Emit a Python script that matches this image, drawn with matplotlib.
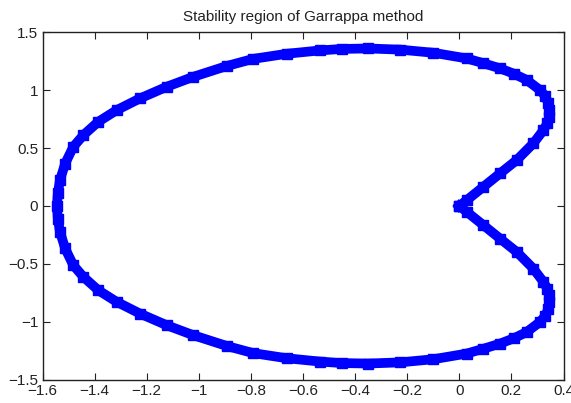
import matplotlib
matplotlib.use("Agg")
import matplotlib.pyplot as plt

plt.rcParams['font.family'] = ['Liberation Sans', 'DejaVu Sans']

# boundary points (cusp -> upper arc -> left -> lower arc -> cusp)
x_upper = [0.0, 0.028, 0.092, 0.156, 0.220, 0.284, 0.323, 0.338, 0.346, 0.346, 0.342,
           0.330, 0.310, 0.259, 0.210, 0.156, 0.090, 0.028, -0.100, -0.228, -0.350,
           -0.450, -0.535, -0.663, -0.791, -0.893, -1.021, -1.123, -1.226, -1.315,
           -1.386, -1.443, -1.482, -1.513, -1.533, -1.541, -1.545]
y_upper = [0.0, 0.049, 0.165, 0.281, 0.396, 0.541, 0.656, 0.715, 0.771, 0.830, 0.887,
           0.950, 1.002, 1.089, 1.143, 1.190, 1.236, 1.276, 1.325, 1.352, 1.362,
           1.358, 1.345, 1.316, 1.272, 1.210, 1.117, 1.031, 0.930, 0.829,
           0.728, 0.613, 0.511, 0.367, 0.223, 0.110, 0.0]
x_lower = [-1.541, -1.533, -1.513, -1.482, -1.443, -1.386, -1.315, -1.226, -1.123, -1.021,
           -0.893, -0.791, -0.663, -0.535, -0.450, -0.350, -0.228, -0.100, 0.028, 0.090,
           0.156, 0.210, 0.259, 0.310, 0.330, 0.342, 0.346, 0.346, 0.338, 0.323, 0.284,
           0.220, 0.156, 0.092, 0.028, 0.0]
y_lower = [-0.110, -0.223, -0.367, -0.511, -0.613, -0.728, -0.829, -0.930, -1.031, -1.117,
           -1.210, -1.272, -1.316, -1.345, -1.358, -1.362, -1.352, -1.325, -1.276, -1.236,
           -1.190, -1.143, -1.089, -1.002, -0.950, -0.887, -0.830, -0.771, -0.715, -0.656, -0.541,
           -0.396, -0.281, -0.165, -0.049, 0.0]

xticks = [-1.6, -1.4, -1.2, -1.0, -0.8, -0.6, -0.4, -0.2, 0.0, 0.2, 0.4]
xtick_labels = ['\u22121.6', '\u22121.4', '\u22121.2', '\u22121', '\u22120.8', '\u22120.6',
                '\u22120.4', '\u22120.2', '0', '0.2', '0.4']
yticks = [-1.5, -1.0, -0.5, 0.0, 0.5, 1.0, 1.5]
ytick_labels = ['\u22121.5', '\u22121', '\u22120.5', '0', '0.5', '1', '1.5']
title = 'Stability region of Garrappa method'

xs = x_upper + x_lower
ys = y_upper + y_lower

fig = plt.figure(figsize=(5.71, 4.03), dpi=100)
ax = fig.add_axes([42.5 / 571, 1 - 379.5 / 403, 521 / 571, 347 / 403])
ax.plot(xs, ys, color='#0000ff', linewidth=7, marker='s', markersize=6.5,
        markeredgewidth=1.0, solid_joinstyle='round')
ax.set_xlim(-1.6, 0.4)
ax.set_ylim(-1.5, 1.5)
ax.set_xticks(xticks)
ax.set_xticklabels(xtick_labels)
ax.set_yticks(yticks)
ax.set_yticklabels(ytick_labels)
ax.tick_params(direction='in', top=True, right=True, length=5, width=0.8,
               labelsize=11, pad=3, colors='#222222', labelcolor='#222222')
for s in ax.spines.values():
    s.set_linewidth(1.0)
    s.set_color('#222222')
ax.set_title(title, fontsize=11, pad=8, color='#222222')
fig.savefig('out.png', dpi=100)
